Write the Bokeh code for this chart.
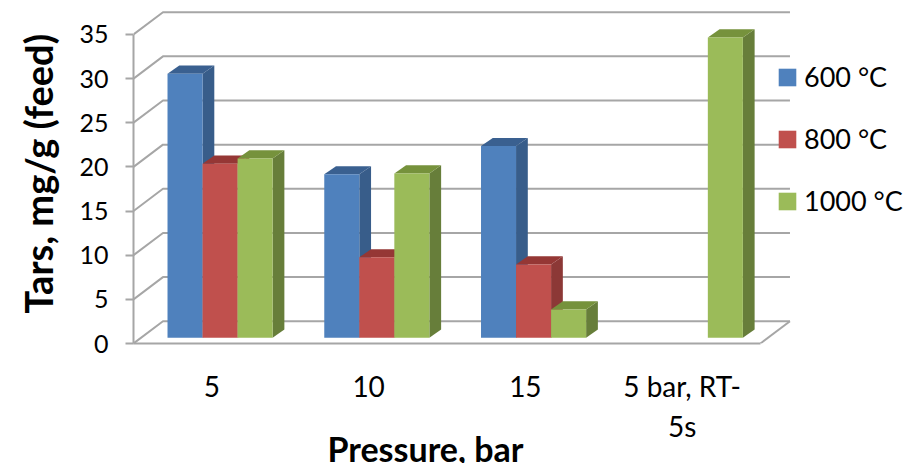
from bokeh.plotting import figure
from bokeh.models import FixedTicker, Legend, LegendItem, Range1d, Title
from bokeh.embed import file_html
from bokeh.resources import INLINE

categories = ["5", "10", "15", "5 bar, RT-\n5s"]
series_names = ["600 °C", "800 °C", "1000 °C"]
temp_600 = [29.9, 18.5, 21.7, None]
temp_800 = [19.7, 9.1, 8.3, None]
temp_1000 = [20.3, 18.6, 3.2, 34.0]
y_ticks = [0, 5, 10, 15, 20, 25, 30, 35]
x_title = "Pressure, bar"
y_title = "Tars, mg/g (feed)"

front_colors = ["#4F81BD", "#C0504D", "#9BBB59"]
side_colors = ["#385D8A", "#8C3836", "#677E3A"]
top_colors = ["#3A6090", "#953735", "#76923C"]
GRID = "#A6A6A6"
FONT = "Lato"

# pseudo-3D geometry, in data units
WALL_DX, WALL_DY = 0.188, 2.52
BAR_DX, BAR_DY = 0.075, 0.92
OFF_Y = 0.66
BAR_W = 0.2235
GROUP_START = 0.217

PX_X = 156.75
PX_Y = 8.83
p = figure(width=920, height=463, output_backend="svg", toolbar_location=None,
           min_border_left=133, min_border_right=0, min_border_top=0, min_border_bottom=120,
           x_range=Range1d(0, 787 / PX_X), y_range=Range1d(0, 343 / PX_Y),
           outline_line_color=None)
p.grid.visible = False

# walls and floor
for v in y_ticks:
    p.line([0, WALL_DX, 4 + WALL_DX], [v, v + WALL_DY, v + WALL_DY], line_color=GRID, line_width=2)
p.line([4, 4 + WALL_DX], [0, WALL_DY], line_color=GRID, line_width=2)

# bars
legend_items = []
for s, vals in enumerate([temp_600, temp_800, temp_1000]):
    left, right, top, bottom = [], [], [], []
    side_x, side_y, top_x, top_y = [], [], [], []
    for i, v in enumerate(vals):
        if v is None:
            continue
        x0 = i + GROUP_START + s * BAR_W
        x1 = x0 + BAR_W
        left.append(x0); right.append(x1); bottom.append(OFF_Y); top.append(OFF_Y + v)
        side_x.append([x1, x1 + BAR_DX, x1 + BAR_DX, x1])
        side_y.append([OFF_Y, OFF_Y + BAR_DY, OFF_Y + v + BAR_DY, OFF_Y + v])
        top_x.append([x0, x0 + BAR_DX, x1 + BAR_DX, x1])
        top_y.append([OFF_Y + v, OFF_Y + v + BAR_DY, OFF_Y + v + BAR_DY, OFF_Y + v])
    p.patches(side_x, side_y, fill_color=side_colors[s], line_color=None)
    p.patches(top_x, top_y, fill_color=top_colors[s], line_color=None)
    r = p.quad(left=left, right=right, top=top, bottom=bottom,
               fill_color=front_colors[s], line_color=None)
    legend_items.append(LegendItem(label=series_names[s], renderers=[r]))

# axes
ya = p.yaxis[0]
ya.bounds = (0, 35)
ya.ticker = FixedTicker(ticks=y_ticks)
ya.minor_tick_line_color = None
ya.axis_line_color = GRID
ya.axis_line_width = 2
ya.major_tick_line_color = GRID
ya.major_tick_line_width = 2
ya.major_tick_in = 0
ya.major_tick_out = 8
ya.major_label_standoff = 17
ya.major_label_text_font = FONT
ya.major_label_text_font_size = "25px"
ya.major_label_text_color = "#000000"

xa = p.xaxis[0]
xa.bounds = (0, 4)
xa.ticker = FixedTicker(ticks=[0.5, 1.5, 2.5, 3.5])
xa.major_label_overrides = {0.5: categories[0], 1.5: categories[1], 2.5: categories[2], 3.5: categories[3]}
xa.minor_tick_line_color = None
xa.major_tick_line_color = None
xa.axis_line_color = GRID
xa.axis_line_width = 2
xa.major_label_standoff = 19
xa.major_label_text_font = FONT
xa.major_label_text_font_size = "28px"
xa.major_label_text_color = "#000000"

# axis titles as offset Title annotations so they can sit off-centre
p.add_layout(Title(text=x_title, align="left", offset=194, standoff=-44,
                   text_font=FONT, text_font_style="bold", text_font_size="34px", text_color="#000000"), "below")
p.add_layout(Title(text=y_title, align="left", offset=30, standoff=28, vertical_align="top",
                   text_font=FONT, text_font_style="bold", text_font_size="38px", text_color="#000000"), "left")

legend = Legend(items=legend_items, location=(643, 126),
                background_fill_alpha=0, border_line_color=None,
                glyph_width=22, glyph_height=22, label_standoff=6,
                label_text_font=FONT, label_text_font_size="27px", label_text_color="#000000",
                spacing=29, padding=0, margin=0)
p.add_layout(legend, "center")

open("out.html", "w").write(file_html(p, INLINE))
